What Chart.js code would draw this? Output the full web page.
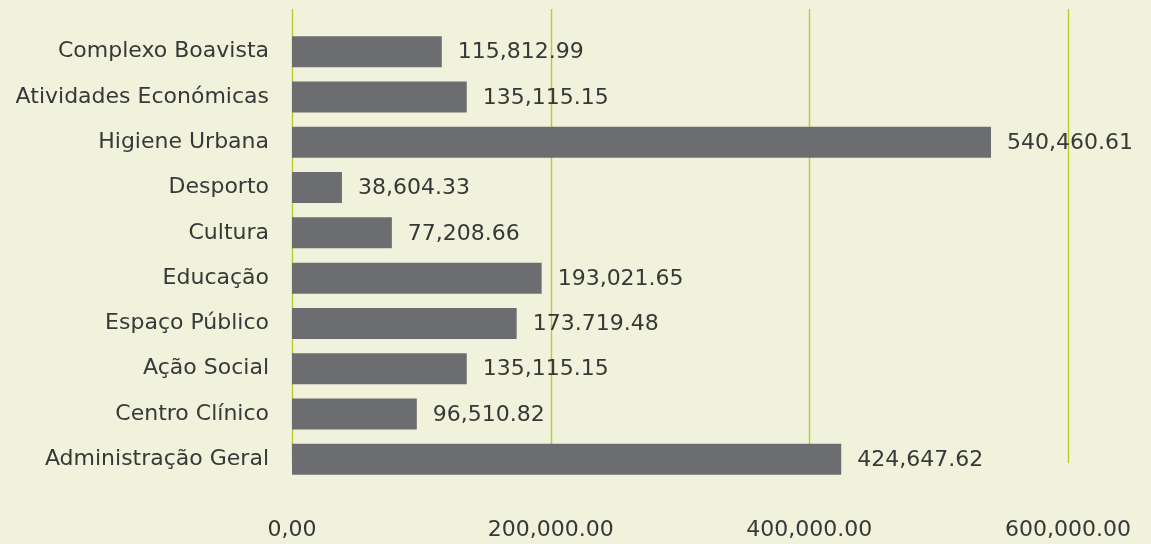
<!DOCTYPE html>
<html>
<head>
<meta charset="utf-8">
<script src="https://cdn.jsdelivr.net/npm/chart.js@4"></script>
<style>
  html, body { margin: 0; padding: 0; background: #f1f2dc; }
  #wrap { width: 1151px; height: 544px; position: relative; }
</style>
</head>
<body>
<div id="wrap"><canvas id="c"></canvas></div>
<script>
const categories = [
  "Complexo Boavista",
  "Atividades Económicas",
  "Higiene Urbana",
  "Desporto",
  "Cultura",
  "Educação",
  "Espaço Público",
  "Ação Social",
  "Centro Clínico",
  "Administração Geral"
];
const values = [115812.99, 135115.15, 540460.61, 38604.33, 77208.66, 193021.65, 173719.48, 135115.15, 96510.82, 424647.62];
const valueLabels = ["115,812.99", "135,115.15", "540,460.61", "38,604.33", "77,208.66", "193,021.65", "173.719.48", "135,115.15", "96,510.82", "424,647.62"];
const xTicks = [0, 200000, 400000, 600000];
const xTickLabels = ["0,00", "200,000.00", "400,000.00", "600,000.00"];

const FONT = "'DejaVu Sans', sans-serif";
const TEXT = "#383838";
const GRID = "#bccb2c";

const gridPlugin = {
  id: 'customGrid',
  beforeDatasetsDraw(chart) {
    const { ctx, chartArea, scales } = chart;
    const x = scales.x;
    ctx.save();
    ctx.strokeStyle = GRID;
    ctx.lineWidth = 1.4;
    xTicks.forEach(v => {
      const px = Math.round(x.getPixelForValue(v)) + 0.5;
      ctx.beginPath();
      ctx.moveTo(px, chartArea.top - 20);
      ctx.lineTo(px, chartArea.bottom - 19);
      ctx.stroke();
    });
    ctx.restore();
  }
};

const labelPlugin = {
  id: 'valueLabels',
  afterDatasetsDraw(chart) {
    const { ctx } = chart;
    const meta = chart.getDatasetMeta(0);
    ctx.save();
    ctx.font = "22px " + FONT;
    ctx.fillStyle = TEXT;
    ctx.textAlign = 'left';
    ctx.textBaseline = 'middle';
    meta.data.forEach((bar, i) => {
      ctx.fillText(valueLabels[i], bar.x + 16, bar.y + 1);
    });
    ctx.restore();
  }
};

function zeroPad(scale) {
  scale.paddingLeft = 0; scale.paddingRight = 0;
  scale.paddingTop = 0; scale.paddingBottom = 0;
}

new Chart(document.getElementById('c'), {
  type: 'bar',
  data: {
    labels: categories,
    datasets: [{
      data: values,
      backgroundColor: '#6c6d71',
      borderWidth: 0,
      barPercentage: 0.684,
      categoryPercentage: 1.0
    }]
  },
  options: {
    indexAxis: 'y',
    responsive: true,
    maintainAspectRatio: false,
    animation: false,
    layout: { padding: { top: 29, right: 83, bottom: 0, left: 0 } },
    plugins: { legend: { display: false }, tooltip: { enabled: false } },
    scales: {
      x: {
        min: 0, max: 600000,
        afterBuildTicks(scale) { scale.ticks = xTicks.map(v => ({ value: v })); },
        afterFit(scale) { scale.height = 62; zeroPad(scale); },
        grid: { display: false, drawTicks: false },
        border: { display: false },
        ticks: {
          padding: 35,
          color: TEXT,
          font: { family: FONT, size: 22 },
          maxRotation: 0,
          autoSkip: false,
          callback: (v, i) => xTickLabels[i]
        }
      },
      y: {
        afterFit(scale) { scale.width = 292; zeroPad(scale); },
        grid: { display: false, drawTicks: false },
        border: { display: false },
        ticks: {
          padding: 23,
          color: TEXT,
          font: { family: FONT, size: 22 },
          autoSkip: false
        }
      }
    }
  },
  plugins: [gridPlugin, labelPlugin]
});
</script>
</body>
</html>
